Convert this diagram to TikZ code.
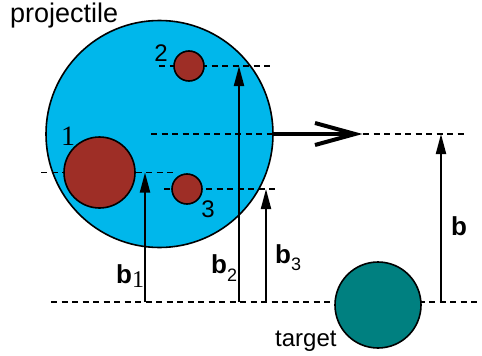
\documentclass[tikz,border=0pt]{standalone}
\usepackage{fontspec}
\setmainfont{Liberation Sans}
\newfontfamily\serifnum{Liberation Serif}
\usetikzlibrary{arrows.meta}
\definecolor{projblue}{RGB}{0,183,235}
\definecolor{nucred}{RGB}{158,46,38}
\definecolor{targteal}{RGB}{0,128,128}
\begin{document}
\begin{tikzpicture}[x=1pt,y=-1pt,
  dashline/.style={line width=1.5pt, dash pattern=on 6pt off 4.5pt},
  ball/.style={circle, draw=black, line width=1.6pt, inner sep=0pt},
  impact/.style={line width=2pt, -{Triangle[length=20pt,width=10pt]}},
  lbl/.style={inner sep=0pt, font=\fontsize{24}{28}\selectfont},
  digitlbl/.style={inner sep=0pt, font=\fontsize{24}{26}\selectfont},
  blbl/.style={inner sep=0pt, anchor=base west, font=\fontsize{26}{28}\selectfont\bfseries},
  heavy/.style={line width=4pt}
]
\useasboundingbox (0,0) rectangle (482,356);
% projectile
\node[ball, fill=projblue, minimum size=227pt] (proj) at (159.5,134) {};
% reference coordinates
\coordinate (d2l) at (159,66);  \coordinate (d2r) at (273,66);
\coordinate (dcl) at (151,134);
\coordinate (d1l) at (41,172.5); \coordinate (d1r) at (177,172.5);
\coordinate (d3l) at (164,189); \coordinate (d3r) at (278,189);
\coordinate (dbl) at (51,302);  \coordinate (dbr) at (480,302);
\coordinate (drl) at (363,134); \coordinate (drr) at (467,134);
% dashed lines
\draw[dashline] (d2l) -- (d2r);
\draw[dashline] (dcl) -- (proj.east);
\draw[dashline] (d1l) -- (d1r);
\draw[dashline] (d3l) -- (d3r);
\draw[dashline] (dbl) -- (dbr);
\draw[dashline] (drl) -- (drr);
% nucleons
\node[ball, fill=nucred, minimum size=71pt] (c1) at (99.5,172.5) {};
\node[ball, fill=nucred, minimum size=30pt] (c2) at (189,66) {};
\node[ball, fill=nucred, minimum size=30pt] (c3) at (187,189) {};
% target
\node[ball, fill=targteal, minimum size=86pt] (targ) at (378,305) {};
% big motion arrow
\coordinate (tip) at (355,134);
\coordinate (armA) at (315,123);
\coordinate (armB) at (315,145);
\draw[heavy] (proj.east) -- (tip);
\draw[heavy, line join=miter] (armA) -- (tip) -- (armB);
% impact parameter arrows
\coordinate (b1s) at (145,302); \coordinate (b1e) at (145,172.5);
\coordinate (b2s) at (239,302); \coordinate (b2e) at (239,66);
\coordinate (b3s) at (266,302); \coordinate (b3e) at (266,189);
\coordinate (bs) at (441,302);  \coordinate (be) at (441,134);
\draw[impact] (b1s) -- (b1e);
\draw[impact] (b2s) -- (b2e);
\draw[impact] (b3s) -- (b3e);
\draw[impact] (bs) -- (be);
% labels
\node[lbl, anchor=base west, font=\fontsize{27}{30}\selectfont] (tproj) at (10,22) {projectile};
\node[lbl, anchor=base west] (ttarg) at (275,346) {target};
\node[digitlbl] (n2) at (161,53.5) {2};
\node[digitlbl] (n3) at (208,209) {3};
\node[inner sep=0pt, font=\fontsize{28}{30}\selectfont\serifnum] (n1) at (68,136.5) {1};
\node[blbl] (lb1) at (116,283) {b\raisebox{-4pt}{\mdseries\serifnum\fontsize{24}{24}\selectfont 1}};
\node[blbl] (lb2) at (211,273) {b\raisebox{-8pt}{\mdseries\fontsize{18}{18}\selectfont 2}};
\node[blbl] (lb3) at (275,263) {b\raisebox{-7pt}{\mdseries\fontsize{18}{18}\selectfont 3}};
\node[blbl] (lb) at (451,235) {b};
\end{tikzpicture}
\end{document}
